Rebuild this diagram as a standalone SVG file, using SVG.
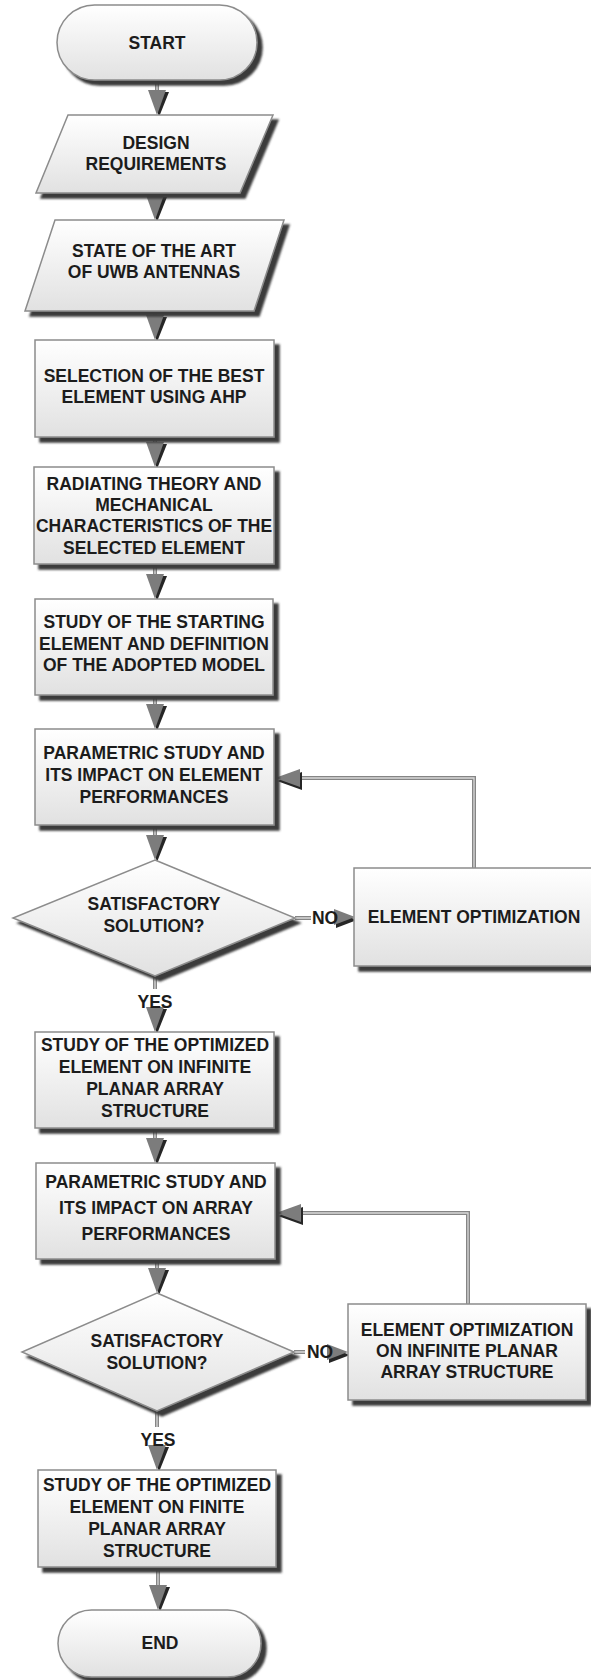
<svg xmlns="http://www.w3.org/2000/svg" xmlns:xlink="http://www.w3.org/1999/xlink" width="591" height="1680" viewBox="0 0 591 1680">
<defs>
<style>
.shape{fill:url(#g);stroke:#8c8c8c;stroke-width:1.5;filter:url(#sh)}
.t{font-family:"Liberation Sans",Arial,sans-serif;font-weight:bold;font-size:17.5px;fill:#1c1c1c;text-anchor:middle}
.lo{fill:none;stroke:#858585;stroke-width:4}
.li{fill:none;stroke:#d9d9d9;stroke-width:1.3}
.ahm{fill:#7c7c7c}
.ahs{fill:#262626}
</style>
<linearGradient id="g" x1="0" y1="0" x2="0" y2="1">
<stop offset="0" stop-color="#ffffff"/>
<stop offset="1" stop-color="#e1e1e1"/>
</linearGradient>
<filter id="sh" x="-10%" y="-10%" width="125%" height="130%">
<feGaussianBlur in="SourceAlpha" stdDeviation="0.8" result="b"/>
<feOffset in="b" dx="5" dy="5" result="o"/>
<feFlood flood-color="#3a3a3a"/>
<feComposite in2="o" operator="in" result="s"/>
<feMerge><feMergeNode in="s"/><feMergeNode in="SourceGraphic"/></feMerge>
</filter>
<g id="ahD"><polygon class="ahs" points="-6,-23 12,-23 2,2"/><polygon class="ahm" points="-9,-25 9,-25 0,0"/></g>
<g id="ahR"><polygon class="ahs" points="-19,-5 -19,11 2,3"/><polygon class="ahm" points="-21,-8 -21,8 0,0"/></g>
<g id="ahL"><polygon class="ahs" points="27,-6 27,12 2,3"/><polygon class="ahm" points="25,-9 25,9 0,0"/></g>
</defs>
<rect width="591" height="1680" fill="#ffffff"/>

<g id="connectors">
<path class="lo" d="M157,80V92 M155,193V198 M155,311V318 M155,437V445 M155,564V576 M155,695V706 M155,825V836 M295,918H311 M155,976V989 M155,1128V1140 M157,1259V1268 M294,1352H305 M157,1411V1427 M158,1567V1586 M474,868V778H296 M468,1304V1213H297"/>
<path class="li" d="M157,80V92 M155,193V198 M155,311V318 M155,437V445 M155,564V576 M155,695V706 M155,825V836 M295,918H311 M155,976V989 M155,1128V1140 M157,1259V1268 M294,1352H305 M157,1411V1427 M158,1567V1586 M474,868V778H296 M468,1304V1213H297"/>
<use xlink:href="#ahD" x="157" y="115"/>
<use xlink:href="#ahD" x="155" y="220"/>
<use xlink:href="#ahD" x="155" y="340"/>
<use xlink:href="#ahD" x="155" y="467"/>
<use xlink:href="#ahD" x="155" y="599"/>
<use xlink:href="#ahD" x="155" y="729"/>
<use xlink:href="#ahD" x="155" y="860"/>
<use xlink:href="#ahD" x="155" y="1032"/>
<use xlink:href="#ahD" x="155" y="1163"/>
<use xlink:href="#ahD" x="157" y="1293"/>
<use xlink:href="#ahD" x="157" y="1470"/>
<use xlink:href="#ahD" x="158" y="1610"/>
<use xlink:href="#ahR" x="355" y="917"/>
<use xlink:href="#ahR" x="348" y="1352"/>
<use xlink:href="#ahL" x="275" y="778"/>
<use xlink:href="#ahL" x="276" y="1213"/>
<text class="t" x="325" y="924">NO</text>
<text class="t" x="320" y="1358">NO</text>
<text class="t" x="155" y="1008">YES</text>
<text class="t" x="158" y="1446">YES</text>
</g>

<g id="start">
<rect class="shape" x="57" y="5" width="200" height="75" rx="37.5"/>
<text class="t" x="157" y="49">START</text>
</g>

<g id="design">
<polygon class="shape" points="68,115 273,115 240,193 36,193"/>
<text class="t" x="156" y="149">DESIGN</text>
<text class="t" x="156" y="170">REQUIREMENTS</text>
</g>

<g id="state">
<polygon class="shape" points="55,220 284,220 254,311 25,311"/>
<text class="t" x="154" y="257">STATE OF THE ART</text>
<text class="t" x="154" y="278">OF UWB ANTENNAS</text>
</g>

<g id="selection">
<rect class="shape" x="35" y="340" width="239" height="97"/>
<text class="t" x="154" y="382">SELECTION OF THE BEST</text>
<text class="t" x="154" y="403">ELEMENT USING AHP</text>
</g>

<g id="radiating">
<rect class="shape" x="34" y="467" width="240" height="97"/>
<text class="t" x="154" y="490">RADIATING THEORY AND</text>
<text class="t" x="154" y="511">MECHANICAL</text>
<text class="t" x="154" y="532">CHARACTERISTICS OF THE</text>
<text class="t" x="154" y="554">SELECTED ELEMENT</text>
</g>

<g id="starting">
<rect class="shape" x="35" y="599" width="238" height="96"/>
<text class="t" x="154" y="628">STUDY OF THE STARTING</text>
<text class="t" x="154" y="650">ELEMENT AND DEFINITION</text>
<text class="t" x="154" y="671">OF THE ADOPTED MODEL</text>
</g>

<g id="param1">
<rect class="shape" x="35" y="729" width="239" height="96"/>
<text class="t" x="154" y="759">PARAMETRIC STUDY AND</text>
<text class="t" x="154" y="781">ITS IMPACT ON ELEMENT</text>
<text class="t" x="154" y="803">PERFORMANCES</text>
</g>

<g id="decision1">
<polygon class="shape" points="155,860 295,918 155,976 13,918"/>
<text class="t" x="154" y="910">SATISFACTORY</text>
<text class="t" x="154" y="932">SOLUTION?</text>
</g>

<g id="opt1">
<rect class="shape" x="354" y="868" width="240" height="98"/>
<text class="t" x="474" y="923">ELEMENT OPTIMIZATION</text>
</g>

<g id="infinite">
<rect class="shape" x="35" y="1032" width="239" height="96"/>
<text class="t" x="155" y="1051">STUDY OF THE OPTIMIZED</text>
<text class="t" x="155" y="1073">ELEMENT ON INFINITE</text>
<text class="t" x="155" y="1095">PLANAR ARRAY</text>
<text class="t" x="155" y="1117">STRUCTURE</text>
</g>

<g id="param2">
<rect class="shape" x="36" y="1163" width="239" height="96"/>
<text class="t" x="156" y="1188">PARAMETRIC STUDY AND</text>
<text class="t" x="156" y="1214">ITS IMPACT ON ARRAY</text>
<text class="t" x="156" y="1240">PERFORMANCES</text>
</g>

<g id="decision2">
<polygon class="shape" points="157,1293 294,1352 157,1411 22,1352"/>
<text class="t" x="157" y="1347">SATISFACTORY</text>
<text class="t" x="157" y="1369">SOLUTION?</text>
</g>

<g id="opt2">
<rect class="shape" x="348" y="1304" width="238" height="96"/>
<text class="t" x="467" y="1336">ELEMENT OPTIMIZATION</text>
<text class="t" x="467" y="1357">ON INFINITE PLANAR</text>
<text class="t" x="467" y="1378">ARRAY STRUCTURE</text>
</g>

<g id="finite">
<rect class="shape" x="38" y="1470" width="238" height="97"/>
<text class="t" x="157" y="1491">STUDY OF THE OPTIMIZED</text>
<text class="t" x="157" y="1513">ELEMENT ON FINITE</text>
<text class="t" x="157" y="1535">PLANAR ARRAY</text>
<text class="t" x="157" y="1557">STRUCTURE</text>
</g>

<g id="end">
<rect class="shape" x="58" y="1610" width="203" height="67" rx="33.5"/>
<text class="t" x="160" y="1649">END</text>
</g>
</svg>
